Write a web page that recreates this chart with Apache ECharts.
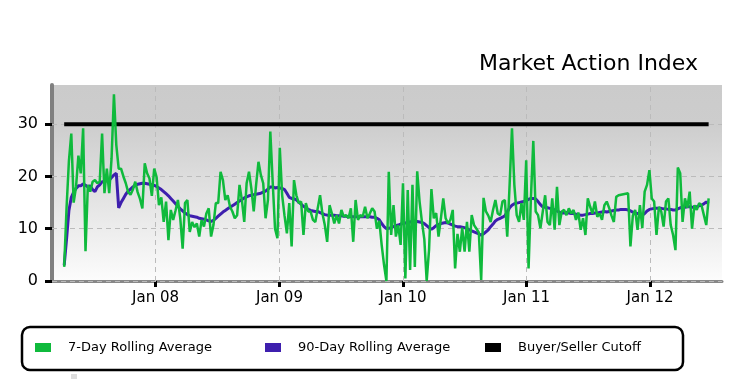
<!DOCTYPE html>
<html><head><meta charset="utf-8">
<script src="https://cdn.jsdelivr.net/npm/echarts@6/dist/echarts.min.js"></script>
<style>html,body{margin:0;padding:0;background:#fff}#c{width:735px;height:379px}</style>
</head><body><div id="c"></div>
<script>
// Weekly readings, first week ending 2007-04-06
const firstWeek = '2007-04-06';
const sevenDay = [
2.7,14,23,28.2,15,18,24,20.6,29.2,5.7,
18.4,17.1,19,19.3,18.7,19,28.2,16.8,21.5,16.8,
23.5,35.7,26,21.5,21.5,20,18.7,17,16.5,17.5,
19,17,15.7,13.9,22.5,20.6,19.6,16.3,21.5,19.9,
14.5,16,11.3,15.2,7.8,13.6,11.7,13.5,15.5,12,
6.2,14.9,15.5,9.4,11.3,10.3,11,8.5,11.7,10.4,
12.9,13.9,8.5,10.7,14.9,14.9,20.9,19.3,15.5,16.4,
14.2,13.3,12,12.6,18.4,15.5,11.3,18.7,20.9,17.7,
13.3,18.4,22.8,20.3,18.7,12,15.5,28.6,19,10,
8.2,25.5,16.4,12.5,9.1,14.9,6.6,19.3,16.4,14.9,
15.2,8.8,14.9,13.3,13.3,11.7,11.3,13.9,16.4,12.9,
10.7,7.5,14.5,12.9,11,12.6,11,13.6,12.3,12.6,
12,13.9,7.5,15.5,11.7,12.6,12.3,14.2,12,12.9,
13.9,13.3,10,11.5,6.9,3.1,0,20.9,8.8,14.5,
8.5,10.7,6.9,18.7,0.5,17.4,2.1,18.4,2.7,21,
15.2,11.3,8,0,6,17.6,12,13,8.5,12,
15.8,12,11,11.7,13.6,2.4,9,5.6,10.2,5.6,
11.3,5.6,12.6,10.7,10,9.3,0.2,15.9,13.3,12.5,
11.3,13.6,15.5,12.9,12.6,15.2,15.5,8.5,18.4,29.2,
18.4,12.6,11.3,14.9,11.7,23.1,2.4,16,26.8,13.3,
12.6,10.1,13.3,16.4,11.3,10.7,15.8,9.8,18,10.7,
13.3,13.6,12.6,13.9,12.9,13.6,11.7,13.1,9.8,12,
8.8,15.8,14.2,12.9,15.2,12.3,12.9,11.7,14.5,15.2,
14,12.5,11.3,16.1,16.4,16.5,16.6,16.7,16.8,6.6,
12.5,13.6,9.8,14.5,10.1,17.1,18.4,21.2,15.8,15.2,
8.8,14.2,13.3,10.4,15.2,15.8,10.7,8.8,5.9,21.7,
20.6,11.3,15.8,14,17.1,10,14.5,13.6,14.9,14.5,
12.6,10.7,15.8
];
const ninetyDay = [
3,8,13.5,16,17,17.7,18.2,18.2,18.6,18.3,
18,18.2,17.5,17.1,18,18.4,19,19,19.2,19.3,
19.8,20.3,20.6,14,15,15.8,16.6,17.2,17.6,18,
18.3,18.5,18.6,18.7,18.7,18.6,18.5,18.4,18.3,18.1,
17.8,17.5,17.1,16.7,16.3,15.8,15.3,14.8,14.3,13.8,
13.4,13,12.7,12.5,12.4,12.3,12.2,12,11.9,11.8,
11.7,11.5,11.4,11.6,12,12.4,12.8,13.2,13.5,13.8,
14.1,14.4,14.7,15,15.3,15.6,15.9,16.1,16.3,16.4,
16.5,16.6,16.7,16.8,17,17.2,17.6,18,18,17.8,
17.9,17.8,17.7,17.5,16.8,16,15.8,15.7,15.5,15.1,
14.7,14.3,14,13.7,13.5,13.4,13.3,13.3,13.1,12.9,
12.7,12.6,12.6,12.6,12.6,12.5,12.5,12.5,12.4,12.4,
12.3,12.3,12.3,12.3,12.3,12.3,12.3,12.3,12.3,12.3,
12.2,12.2,12,11.7,11,10.4,10,10.1,10.2,10.4,
10.6,10.7,10.9,11,11.1,11.2,11.3,11.4,11.5,11.4,
11.3,11.2,11,10.6,10.2,9.9,10.2,10.6,10.8,11,
11.1,11.2,11.1,10.9,10.7,10.5,10.4,10.4,10.3,10.2,
10,9.8,9.6,9.4,9.2,9,8.8,9,9.4,9.8,
10.4,10.9,11.5,11.8,12,12.2,12.5,13.2,14,14.5,
14.8,14.9,15,15.1,15.2,15.4,15.6,15.8,15.8,15.7,
15.2,14.6,14.2,14.1,14,13.9,13.8,13.6,13.4,13.2,
13,13,13.1,13,12.9,12.9,12.8,12.7,12.6,12.6,
12.7,12.8,12.9,12.9,13,13,13.1,13.2,13.3,13.2,
13.3,13.4,13.5,13.6,13.6,13.7,13.7,13.7,13.6,13.4,
13.2,13,12.9,12.8,12.6,12.9,13.4,13.7,13.8,13.9,
13.9,13.9,13.9,13.8,13.8,13.7,13.7,13.6,13.6,13.8,
14,14.1,14.1,14.2,14.2,14.1,14.1,14.2,14.4,14.5,
14.8,15.1,14.8
];
const cutoffValue = 30;
const yTicks = [0, 10, 20, 30];
const tickDates = ['2008-01-01','2009-01-01','2010-01-01','2011-01-01','2012-01-01'];
const tickLabels = ['Jan 08','Jan 09','Jan 10','Jan 11','Jan 12'];
const axisMinDate = '2007-03-01';
const axisMaxDate = '2012-07-31T12:00:00';

const toTs = s => Date.parse(s + (s.length === 10 ? 'T00:00:00Z' : 'Z'));
const WEEK = 7 * 864e5;
const t0 = toTs(firstWeek);
const weeks = sevenDay.map((_, i) => t0 + i * WEEK);
const ticks = tickDates.map(toTs);
const FONT = 'DejaVu Sans';
const dashed = {color: '#bbbbbb', type: [5, 4], width: 1};

const chart = echarts.init(document.getElementById('c'), null, {renderer: 'canvas'});
chart.setOption({
  animation: false,
  backgroundColor: '#ffffff',
  title: {
    text: 'Market Action Index', right: 32, top: 48,
    textStyle: {fontFamily: FONT, fontSize: 22, fontWeight: 'normal', color: '#000'}
  },
  grid: {
    left: 52, right: 13, top: 85, bottom: 98, show: true, borderWidth: 0,
    backgroundColor: {type: 'linear', x: 0, y: 0, x2: 0, y2: 1, colorStops: [
      {offset: 0, color: '#cbcbcb'}, {offset: 0.2, color: '#cdcdcd'}, {offset: 1, color: '#fcfcfc'}]}
  },
  legend: [
    {data: ['7-Day Rolling Average'], left: 35},
    {data: ['90-Day Rolling Average'], left: 265},
    {data: ['Buyer/Seller Cutoff'], left: 485}
  ].map(l => Object.assign({
    top: 341, padding: 0, icon: 'rect', itemWidth: 16, itemHeight: 9, selectedMode: false,
    textStyle: {fontFamily: FONT, fontSize: 13, color: '#000', padding: [0, 0, 0, 12]}
  }, l)),
  graphic: [
    {type: 'rect', shape: {x: 22, y: 327, width: 661, height: 43, r: 8},
     style: {fill: 'none', stroke: '#000', lineWidth: 2.5}, z: 10},
    {type: 'rect', shape: {x: 71, y: 374, width: 6, height: 5}, style: {fill: '#dddddd'}}
  ],
  xAxis: {
    type: 'value', min: toTs(axisMinDate), max: toTs(axisMaxDate),
    axisLine: {show: true, lineStyle: {color: '#888888', width: 3}},
    axisTick: {show: true, customValues: ticks, length: 6, lineStyle: {color: '#000', width: 3}},
    axisLabel: {customValues: ticks, margin: 10, fontFamily: FONT, fontSize: 15, color: '#000',
      formatter: v => tickLabels[ticks.indexOf(v)] || ''},
    splitLine: {show: false}
  },
  yAxis: {
    type: 'value', min: 0, max: 37.5,
    axisLine: {show: true, lineStyle: {color: '#808080', width: 4}},
    axisTick: {show: true, customValues: yTicks, length: 7, lineStyle: {color: '#000', width: 3}},
    axisLabel: {customValues: yTicks, margin: 14, fontFamily: FONT, fontSize: 16, color: '#000'},
    splitLine: {show: false}
  },
  series: [
    {
      name: 'grid', type: 'line', data: [], silent: true, z: 1,
      markLine: {z: 1, silent: true, symbol: ['none', 'none'], label: {show: false},
        lineStyle: dashed, emphasis: {disabled: true},
        data: ticks.map(t => ({xAxis: t})).concat(yTicks.map(v => ({yAxis: v})))}
    },
    {
      name: 'Buyer/Seller Cutoff', type: 'line', z: 2, showSymbol: false, symbol: 'none',
      itemStyle: {color: '#000'}, lineStyle: {color: '#000', width: 4},
      data: [[weeks[0], cutoffValue], [weeks[weeks.length - 1], cutoffValue]]
    },
    {
      name: '90-Day Rolling Average', type: 'line', z: 3, showSymbol: false, symbol: 'none',
      itemStyle: {color: '#3e1fae'}, lineStyle: {color: '#3e1fae', width: 3},
      data: weeks.map((t, i) => [t, ninetyDay[i]])
    },
    {
      name: '7-Day Rolling Average', type: 'line', z: 4, showSymbol: false, symbol: 'none',
      itemStyle: {color: '#0fba3c'}, lineStyle: {color: '#0fba3c', width: 2.5},
      data: weeks.map((t, i) => [t, sevenDay[i]])
    }
  ]
});
</script></body></html>
